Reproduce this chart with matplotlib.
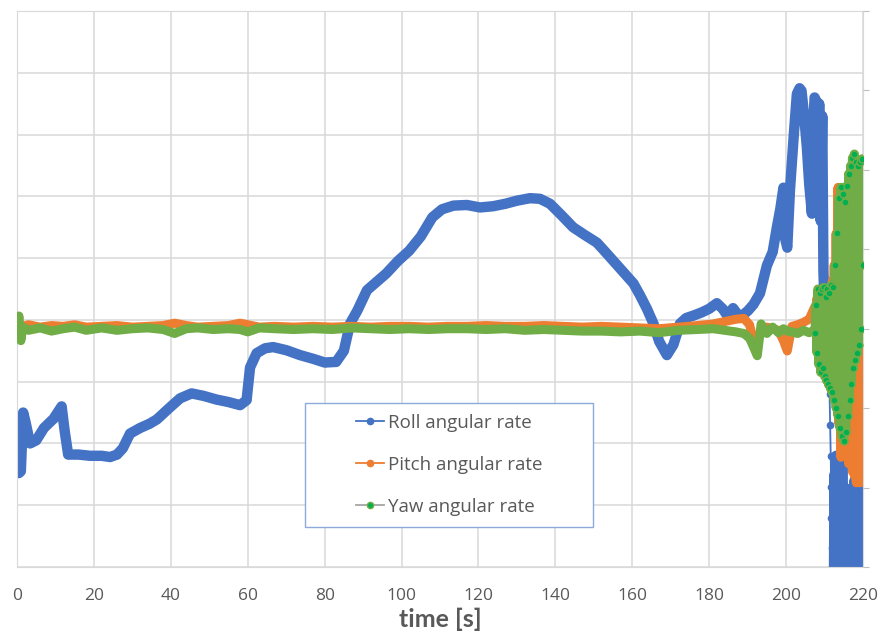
import matplotlib.pyplot as plt
import matplotlib.patches as patches
import numpy as np

plt.rcParams['font.family'] = ['Open Sans', 'DejaVu Sans']

# roll rate (primary axis)
t_roll = np.array([0.5, 1.0, 1.6, 2.2, 3.4, 5, 7, 9.5, 11.6, 12.4, 13.3, 16, 19, 22, 24.2, 26, 27.5, 29.4,
                   32, 34.5, 36.4, 39, 42.4, 45.4, 48.5, 51.9, 55, 58, 59.7, 60.6, 62.3, 64.5, 66.6, 70,
                   73.6, 77, 80, 83, 85, 86.6, 88.5, 91, 96, 99, 102, 105, 108, 110.5, 113.5, 117, 120.4,
                   123.8, 127, 130, 133.4, 136, 138.6, 141.5, 144.6, 147.5, 150.8, 153, 155, 158, 160.3,
                   162, 163.8, 165.5, 167, 169, 170.7, 172.4, 174, 175.9, 178, 180, 182, 183.5, 184.7,
                   186.2, 188, 190.1, 191.5, 193.2, 195, 196.5, 197.6, 198.5, 199.3, 199.8, 200.3, 201,
                   202, 202.8, 203.5, 204, 204.7, 205.4, 206, 206.7, 207, 207.4, 207.8, 208.2, 208.6, 209,
                   209.4, 209.7, 210, 210.5, 211, 211.3, 211.45, 211.6, 211.7, 211.8, 211.9, 212.0, 212.2,
                   212.4, 212.6, 212.8, 213.0, 213.2, 213.4, 213.6, 213.8, 214.0, 214.2, 214.4, 214.6,
                   214.8, 215.0, 215.2, 215.4, 215.6, 215.8, 216.0, 216.2, 216.4, 216.6, 216.8, 217.0,
                   217.2, 217.4, 217.6, 217.8, 218.0, 218.2, 218.4, 218.6, 218.8, 219.0, 219.2, 219.4,
                   219.6])
roll = np.array([-24.8, -24.5, -15, -16.5, -20, -19.5, -17.5, -16, -14, -18, -21.8, -21.8, -22, -22, -22.2,
                 -21.8, -20.8, -18.4, -17.5, -16.8, -16.1, -14.6, -12.7, -11.9, -12.3, -12.9, -13.3, -13.8,
                 -13, -7.7, -5.4, -4.6, -4.4, -4.9, -5.7, -6.3, -6.9, -6.8, -5, -0.6, 1.5, 4.8, 7.5, 9.5,
                 11.2, 13.5, 16.6, 17.9, 18.5, 18.6, 18.2, 18.4, 18.8, 19.3, 19.7, 19.6, 18.8, 17, 15,
                 13.8, 12.5, 11, 9.6, 7.5, 5.9, 4, 1.8, -0.6, -3.5, -5.7, -4, -0.6, 0.3, 0.7, 1.2, 1.8,
                 2.7, 1.8, 0.7, 1.9, 0.4, 1.5, 2.5, 4.3, 8.8, 11, 15, 18, 21.4, 13, 11.7, 21, 30, 36.6,
                 37.5, 37.1, 33, 27.9, 22, 17.2, 30, 36, 35.5, 20, 35, 16, 33, 8, 2, -5, -8, -12, -17,
                 -22, -27, -32, -37, -42, -30,
                 -46, -25, -45, -22, -47, -23, -44, -24, -46, -22, -45, -23, -47, -27, -45, -30, -48,
                 -31, -44, -29, -47, -31, -45, -28, -46, -27, -44, -26, -47, -27, -45, -26, -46, -28,
                 -44, -30, -42])

# pitch and yaw rate (secondary axis)
t_py = np.array([0, 0.5, 1, 1.5, 3, 6, 9, 12, 15, 18, 22, 26, 30, 34, 38, 41, 44, 47, 51, 55, 58, 60, 63,
                 67, 72, 77, 82, 87, 92, 97, 102, 107, 112, 117, 122, 127, 132, 137, 142, 147, 152, 157,
                 162, 167, 172, 177, 181, 184, 187, 189, 190.5, 191.7, 192.5, 193.5, 195, 196.5, 198,
                 199.3, 200.3, 201.5, 203, 204.5, 206, 207.2,
                 207.5, 207.75, 208.0, 208.25, 208.5, 208.75, 209.0, 209.25, 209.5, 209.75,
                 210.0, 210.25, 210.5, 210.75, 211.0, 211.25, 211.5, 211.75, 212.0, 212.25,
                 212.5, 212.75, 213.0, 213.25, 213.5, 213.75, 214.0, 214.25, 214.5, 214.75,
                 215.0, 215.25, 215.5, 215.75, 216.0, 216.25, 216.5, 216.75, 217.0, 217.25,
                 217.5, 217.75, 218.0, 218.25, 218.5, 218.75, 219.0, 219.25, 219.5, 219.75, 220.0])
pitch = np.array([0.4, 0.6, 0.1, 0.3, 0.5, 0.2, 0.4, 0.3, 0.5, 0.2,
                  0.3, 0.4, 0.2, 0.3, 0.4, 0.7, 0.4, 0.2, 0.3, 0.4,
                  0.7, 0.5, 0.2, 0.3, 0.2, 0.3, 0.2, 0.3, 0.2, 0.3,
                  0.3, 0.2, 0.3, 0.3, 0.4, 0.3, 0.3, 0.4, 0.3, 0.2,
                  0.3, 0.2, 0.1, 0.0, 0.2, 0.4, 0.6, 0.9, 1.2, 1.3,
                  0.5, -1.9, -1.2, -0.3, 0.2, 0.0, -0.2, -1.5, -2.8, 0.3,
                  0.5, 0.8, 1.2, 2.5,
                  2.8, 0.5, 3.8, -1.0, 3.5, -2.0, 3.0, -2.4, 2.5, -2.0,
                  2.0, -3.0, 3.0, -4.0, 4.0, -5.0, 5.0, -6.0, 6.0, -7.0,
                  8.0, -8.0, 12.0, -10.0, 17.8, -12.0, 15.0, -16.2, 6.0, -15.0,
                  3.0, -16.0, 2.0, -15.5, 1.0, -17.0, 2.0, -16.5, 0.0, -18.0,
                  1.0, -18.5, 0.0, -19.4, 1.0, -19.0, 0.0, -19.4, -2.0, -18.0, -10.0])
yaw = np.array([0.0, 1.6, -1.5, 0.2, -0.2, 0.1, -0.3, 0.0, 0.2, -0.2,
                0.1, -0.2, 0.0, 0.1, -0.1, -0.6, 0.0, 0.1, -0.1, 0.0,
                -0.1, -0.4, 0.1, 0.0, -0.1, 0.0, -0.1, 0.1, 0.0, -0.1,
                0.0, -0.1, 0.0, 0.0, -0.1, 0.0, -0.2, -0.1, -0.2, -0.3,
                -0.3, -0.4, -0.3, -0.5, -0.2, -0.1, 0.0, -0.2, -0.4, -0.6,
                -1.2, -2.5, -3.4, 0.6, -0.6, 0.2, -0.5, 0.0, -0.3, -0.4,
                -0.6, -0.2, -0.5, -0.2,
                -0.5, 3.0, -3.0, 5.0, -4.5, 4.5, -5.5, 5.0, -5.0, 5.2,
                -6.0, 4.0, -6.5, 5.0, -7.0, 4.5, -7.5, 5.5, -8.0, 5.2,
                -9.0, 8.0, -10.0, 12.0, -11.0, 16.5, -12.5, 17.8, -13.5, 17.0,
                -14.1, 16.0, -13.0, 18.0, -11.0, 19.5, -9.0, 20.5, -7.0, 21.5,
                -5.0, 22.0, -4.0, 21.0, -3.1, 20.5, -2.0, 21.0, 0.0, 21.4, 8.0])

blue = '#4472C4'
orange = '#ED7D31'
green = '#70AD47'
grey = '#595959'

fig = plt.figure(figsize=(8.81, 6.37), dpi=100)
ax = fig.add_axes([0.0193, 0.1099, 0.9603, 0.8728])
ax2 = ax.twinx()

# thick band imitates the dense point cloud; the steep drop near 211 s stays as dots
roll_band = np.where((t_roll <= 210) | (t_roll >= 212.3), roll, np.nan)
ax.plot(t_roll, roll_band, color=blue, lw=7.5, solid_capstyle='round', solid_joinstyle='round')
ax.plot(t_roll, roll, color=blue, lw=1.3, marker='o', ms=4.5)

ax2.plot(t_py, pitch, color=orange, lw=6.5, solid_capstyle='round', solid_joinstyle='round')
ax2.plot(t_py, yaw, color='#A5A5A5', lw=1.2)
ax2.plot(t_py, yaw, color=green, lw=6.5, solid_capstyle='round', solid_joinstyle='round')
tail = t_py >= 207.5
ax2.plot(t_py[tail], yaw[tail], ls='none', marker='o', ms=5, mfc='#00B050', mec=green)

ax.set_xlim(0, 220)
ax.set_ylim(-40, 50)
ax2.set_ylim(-30, 40)
ax.set_xticks(np.arange(0, 221, 20))
ax.set_yticks(np.arange(-40, 51, 10))
ax2.set_yticks(np.arange(-30, 41, 10))
ax.grid(True, color='#D9D9D9', lw=1.1)
ax.set_axisbelow(True)
for s in ax.spines.values():
    s.set_color('#D9D9D9')
for s in ax2.spines.values():
    s.set_visible(False)
ax.tick_params(axis='x', length=0, pad=15, labelsize=12.5, labelcolor=grey)
ax.tick_params(axis='y', length=0, labelleft=False)
ax2.tick_params(axis='y', direction='out', length=4, color='#BFBFBF', labelright=False)

ax.set_xlabel('time [s]', fontsize=18, fontweight='bold', color=grey, labelpad=3, family='Lato')

frame = patches.Rectangle((0.340, 0.072), 0.341, 0.223, transform=ax2.transAxes,
                          facecolor='white', edgecolor='#8EA9DB', lw=1, zorder=4)
ax2.add_patch(frame)
legend_handles = [plt.Line2D([], [], color=blue, lw=1.3, marker='o', ms=4.5),
                  plt.Line2D([], [], color=orange, lw=1.3, marker='o', ms=4.5),
                  plt.Line2D([], [], color='#A5A5A5', lw=1.3, marker='o', ms=4.5, mfc='#00B050', mec=green)]
leg = ax2.legend(legend_handles,
                 ['Roll angular rate', 'Pitch angular rate', 'Yaw angular rate'],
                 loc='center', bbox_to_anchor=(0.5106, 0.1835), bbox_transform=ax2.transAxes,
                 frameon=False, fontsize=13.5, labelspacing=1.28, handlelength=1.5,
                 handletextpad=0.2, labelcolor=grey)
leg.set_zorder(5)

fig.savefig('out.png', dpi=100)
